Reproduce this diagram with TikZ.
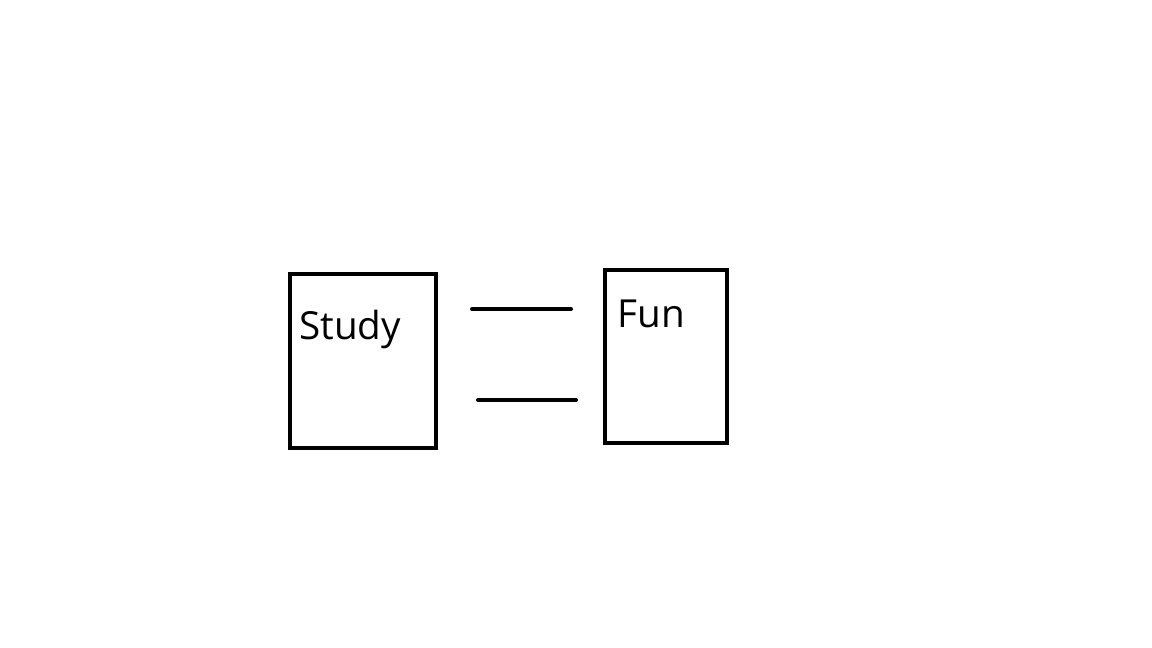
\documentclass[tikz,border=0pt]{standalone}
\usepackage{fontspec}
\setmainfont{Open Sans}
\usetikzlibrary{positioning}

\begin{document}
\begin{tikzpicture}[x=0.02cm,y=-0.02cm]
\tikzstyle{card}=[rectangle, draw=black, line width=0.08cm, inner sep=0pt]
\tikzstyle{word}=[anchor=base west, inner sep=0pt, font=\fontsize{22}{26}\selectfont]
\tikzstyle{bar}=[line width=0.08cm, line cap=round]
  \useasboundingbox (0,0) rectangle (1152,648);
  \node[card, minimum width=2.92cm, minimum height=3.48cm] (study) at (363,361) {};
  \node[card, minimum width=2.44cm, minimum height=3.46cm] (fun) at (666,356.5) {};
  \node[word] (studytxt) at (299,339) {Study};
  \node[word] (funtxt) at (617,328) {Fun};
  \coordinate (a1) at (472,309);
  \coordinate (a2) at (571,309);
  \coordinate (b1) at (478,400);
  \coordinate (b2) at (576,400);
  \draw[bar] (a1) -- (a2);
  \draw[bar] (b1) -- (b2);
\end{tikzpicture}
\end{document}
